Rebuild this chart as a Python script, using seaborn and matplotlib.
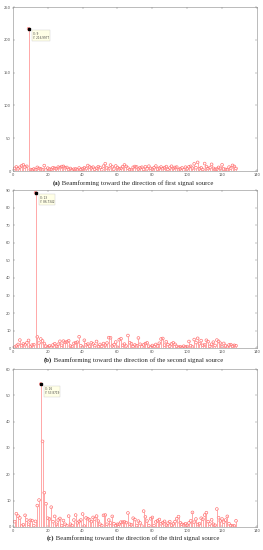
import matplotlib
matplotlib.use("Agg")
import matplotlib.pyplot as plt
import seaborn as sns
import numpy as np
import pandas as pd

# beamforming output per index (1..128)
beam_a = [4.1, 6.2, 3.5, 5.8, 7.9, 9.4, 6.1, 7.2, 217.0, 2.3,
          1.8, 3.1, 2.2, 5.6, 4.0, 3.3, 2.1, 8.3, 1.5, 4.4,
          3.0, 2.6, 5.1, 4.2, 3.7, 6.0, 5.2, 6.8, 7.1, 4.9,
          5.5, 2.4, 3.9, 1.6, 2.8, 3.2, 1.9, 4.6, 2.5, 3.4,
          5.0, 3.6, 8.4, 6.3, 4.8, 5.9, 2.7, 4.3, 6.6, 5.3,
          2.0, 7.5, 11.2, 4.7, 3.8, 9.1, 6.4, 2.9, 7.8, 5.4,
          3.5, 4.1, 6.7, 9.3, 7.0, 4.5, 2.2, 1.4, 5.7, 6.9,
          6.2, 3.0, 4.9, 5.8, 2.6, 6.5, 3.3, 7.4, 4.0, 2.8,
          5.2, 7.6, 3.1, 4.4, 6.1, 3.7, 5.0, 6.8, 2.3, 4.6,
          7.3, 3.9, 5.5, 6.0, 2.1, 3.4, 4.8, 1.7, 5.9, 3.2,
          6.4, 7.2, 4.3, 11.0, 5.1, 13.2, 3.6, 4.9, 2.4, 11.4,
          6.7, 3.8, 5.3, 10.2, 4.1, 2.7, 3.0, 5.6, 4.2, 9.5,
          3.1, 2.5, 1.8, 6.0, 4.4, 8.6, 7.0, 3.9]

beam_b = [0.6, 1.2, 2.1, 4.6, 1.5, 2.4, 1.9, 3.0, 4.4, 0.8,
          1.7, 2.0, 88.6, 6.4, 2.9, 5.2, 4.1, 2.6, 1.1, 0.7,
          1.3, 0.4, 1.8, 2.5, 1.0, 2.2, 3.9, 1.6, 4.0, 3.3,
          3.6, 4.2, 1.2, 0.9, 2.7, 3.1, 3.4, 6.5, 1.4, 0.6,
          4.5, 1.9, 2.3, 1.1, 3.0, 2.4, 1.5, 3.8, 0.8, 2.1,
          1.0, 2.6, 1.7, 2.9, 6.0, 5.9, 1.3, 2.0, 3.5, 0.5,
          4.8, 5.4, 1.6, 2.3, 1.2, 7.2, 3.1, 2.5, 0.9, 1.8,
          1.4, 5.8, 2.2, 0.7, 1.9, 2.6, 3.0, 1.1, 0.6, 1.5,
          0.9, 2.1, 1.3, 2.8, 5.2, 5.5, 1.7, 3.6, 2.0, 1.2,
          2.4, 3.0, 2.2, 1.0, 0.5, 0.8, 0.4, 1.1, 0.6, 0.9,
          3.8, 1.4, 0.7, 4.9, 3.2, 5.6, 2.5, 4.3, 1.6, 1.9,
          4.5, 3.7, 1.0, 2.2, 3.4, 1.5, 4.6, 3.9, 2.8, 0.8,
          2.7, 1.3, 0.6, 1.8, 2.0, 1.1, 1.6, 1.4]

beam_c = [2.0, 5.0, 4.1, 3.4, 0.3, 0.8, 4.4, 2.6, 1.0, 2.5,
          2.4, 0.5, 2.1, 8.1, 10.2, 54.3, 32.5, 13.0, 8.8, 3.3,
          3.0, 7.5, 2.0, 4.0, 1.0, 2.6, 3.2, 0.5, 2.4, 1.0,
          0.4, 4.1, 1.0, 0.5, 2.6, 4.5, 1.5, 2.1, 2.6, 4.9,
          0.3, 3.4, 3.1, 2.7, 2.0, 3.6, 3.0, 4.1, 2.2, 1.0,
          0.5, 4.4, 4.5, 1.0, 2.6, 1.5, 4.0, 1.2, 0.5, 1.0,
          1.0, 1.8, 1.8, 1.9, 1.6, 5.3, 1.0, 0.8, 3.3, 2.8,
          0.5, 2.2, 1.5, 0.3, 6.0, 3.8, 2.2, 0.5, 3.1, 3.6,
          0.5, 1.9, 2.3, 2.8, 1.2, 1.6, 2.1, 0.6, 1.4, 2.0,
          0.7, 1.1, 2.0, 3.1, 3.9, 1.6, 1.0, 0.8, 1.2, 0.6,
          1.5, 2.3, 5.5, 1.8, 3.0, 0.9, 1.2, 3.3, 2.9, 4.5,
          5.4, 2.0, 1.1, 2.7, 1.0, 0.6, 6.8, 3.5, 2.2, 3.0,
          1.8, 2.6, 4.0, 1.2, 0.5, 0.3, 0.4, 2.3]

peak_x = [9, 13, 16]
peak_label = ["X: 9\nY: 216.9977", "X: 13\nY: 86.7342", "X: 16\nY: 53.8719"]
ylims = [250, 90, 60]
ysteps = [50, 10, 10]
captions = [("(a)", " Beamforming toward the direction of first signal source"),
            ("(b)", " Beamforming toward the direction of the second signal source"),
            ("(c)", " Beamforming toward the direction of the third signal source")]

sns.set_theme(style="white")
plt.rcParams['font.family'] = ['DejaVu Sans']

fig = plt.figure(figsize=(2.63, 5.5), dpi=100)
boxes = [[0.049, 0.689, 0.928, 0.298],
         [0.049, 0.367, 0.928, 0.287],
         [0.049, 0.042, 0.928, 0.287]]
cap_y = [0.667, 0.345, 0.022]

stem_col = "#ff9a9a"
mark_col = "#ff6a6a"

for i, vals in enumerate([beam_a, beam_b, beam_c]):
    ax = fig.add_axes(boxes[i])
    df = pd.DataFrame({"n": np.arange(1, len(vals) + 1), "y": vals})
    ax.vlines(df["n"], 0, df["y"], color=stem_col, linewidth=0.6)
    sns.scatterplot(data=df, x="n", y="y", ax=ax, marker="o", s=4,
                    facecolors="none", edgecolor=mark_col, linewidth=0.45)
    ax.axhline(0, color=stem_col, linewidth=0.5)

    px = peak_x[i]
    py = vals[px - 1]
    ax.plot([px], [py], marker="s", color="black", markersize=1.6, linestyle="none")
    ax.annotate(peak_label[i], xy=(px, py), xytext=(3, -2), textcoords="offset points",
                fontsize=2.0, va="top", ha="left", color="#444444",
                bbox=dict(boxstyle="square,pad=0.4", fc="#ffffe6", ec="#cccccc", lw=0.3))

    ax.set_xlim(0, 140)
    ax.set_ylim(0, ylims[i])
    ax.set_xticks(np.arange(0, 141, 20))
    ax.set_yticks(np.arange(0, ylims[i] + 1, ysteps[i]))
    ax.set_xlabel("")
    ax.set_ylabel("")
    ax.tick_params(direction="in", length=1.5, width=0.3, labelsize=2.6,
                   labelcolor="#555555", color="#777777", pad=1.5,
                   top=True, right=True, bottom=True, left=True)
    for sp in ax.spines.values():
        sp.set_color("#888888")
        sp.set_linewidth(0.4)

    # bold tag + regular rest, placed side by side
    tag, rest = captions[i]
    t1 = fig.text(0.0, cap_y[i], tag, ha="left", va="center", fontsize=4.9,
                  family="Liberation Serif", fontweight="bold")
    t2 = fig.text(0.0, cap_y[i], rest, ha="left", va="center", fontsize=4.9,
                  family="Liberation Serif")
    fig.canvas.draw()
    r = fig.canvas.get_renderer()
    w1 = t1.get_window_extent(r).width / fig.bbox.width
    w2 = t2.get_window_extent(r).width / fig.bbox.width
    x0 = 0.506 - (w1 + w2) / 2
    t1.set_x(x0)
    t2.set_x(x0 + w1)

fig.savefig("out.png", dpi=100, facecolor="white")
